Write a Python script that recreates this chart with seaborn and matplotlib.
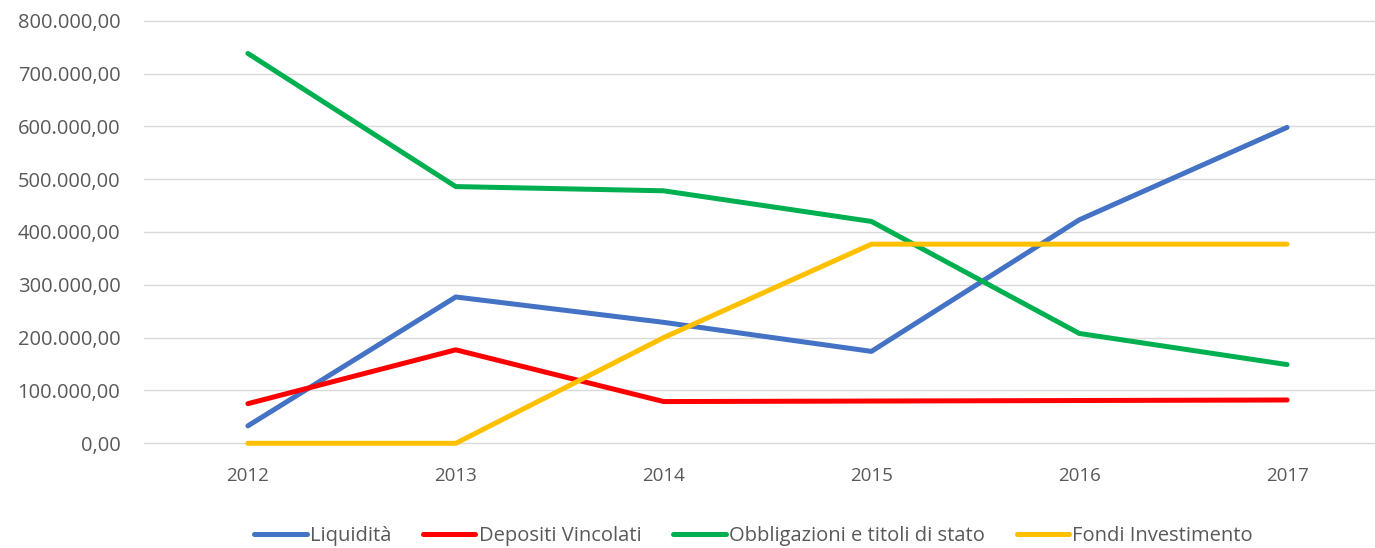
import seaborn as sns
import matplotlib.pyplot as plt
import pandas as pd
from matplotlib.ticker import FuncFormatter

YEARS = ["2012", "2013", "2014", "2015", "2016", "2017"]
SERIES = ["Liquidità", "Depositi Vincolati", "Obbligazioni e titoli di stato", "Fondi Investimento"]
COLORS = ["#4472C4", "#FF0000", "#00B050", "#FFC000"]

liquidita = [33000, 277000, 229000, 174000, 423000, 598000]
depositi = [75000, 177000, 79000, 80000, 81000, 82000]
obbligazioni = [738000, 486000, 478000, 420000, 208000, 149000]
fondi = [0, 0, 200000, 377000, 377000, 377000]

rows = []
for name, vals in zip(SERIES, [liquidita, depositi, obbligazioni, fondi]):
    for i, v in enumerate(vals):
        rows.append({"pos": i, "serie": name, "valore": v})
df = pd.DataFrame(rows)

sns.set_style("white")
plt.rcParams["font.family"] = ["Open Sans", "DejaVu Sans"]

# pixel geometry of the plot area (0 at y=443.3, 800k at y=20.7)
px_per_unit = (443.3 - 20.7) / 800000
margin = 6000
top_px = 20.7 - margin * px_per_unit
bot_px = 443.3 + margin * px_per_unit

fig = plt.figure(figsize=(13.75, 5.48), dpi=100)
ax = fig.add_axes([144 / 1375, 1 - bot_px / 548, 1 - 144 / 1375, (bot_px - top_px) / 548])

sns.lineplot(data=df, x="pos", y="valore", hue="serie", hue_order=SERIES,
             palette=COLORS, linewidth=3.6, ax=ax, legend=False,
             solid_capstyle="round", solid_joinstyle="round")

ax.set_ylim(-margin, 800000 + margin)
ax.set_xlim(-0.5, 5 + (1375 - 1287) / 208)
ax.set_yticks(range(0, 800001, 100000))
ax.yaxis.set_major_formatter(FuncFormatter(
    lambda v, p: f"{v:,.2f}".replace(",", "X").replace(".", ",").replace("X", ".")))
ax.set_xticks(range(len(YEARS)))
ax.set_xticklabels(YEARS)
ax.grid(axis="y", color="#D9D9D9", linewidth=1.0)
ax.set_axisbelow(True)
for s in ax.spines.values():
    s.set_visible(False)
ax.tick_params(axis="y", length=0, pad=17, labelsize=14.5, labelcolor="#595959")
ax.tick_params(axis="x", length=0, pad=15, labelsize=13.5, labelcolor="#595959")
ax.set_xlabel("")
ax.set_ylabel("")

handles = [plt.Line2D([], [], color=c, linewidth=3.6, solid_capstyle="round") for c in COLORS]
fig.legend(handles, SERIES, loc="center", bbox_to_anchor=(0.548, 1 - 536 / 548),
           ncol=4, frameon=False, fontsize=14.5, handlelength=2.6, handletextpad=0.15,
           columnspacing=1.6, labelcolor="#595959")

fig.savefig("out.png", dpi=100)
